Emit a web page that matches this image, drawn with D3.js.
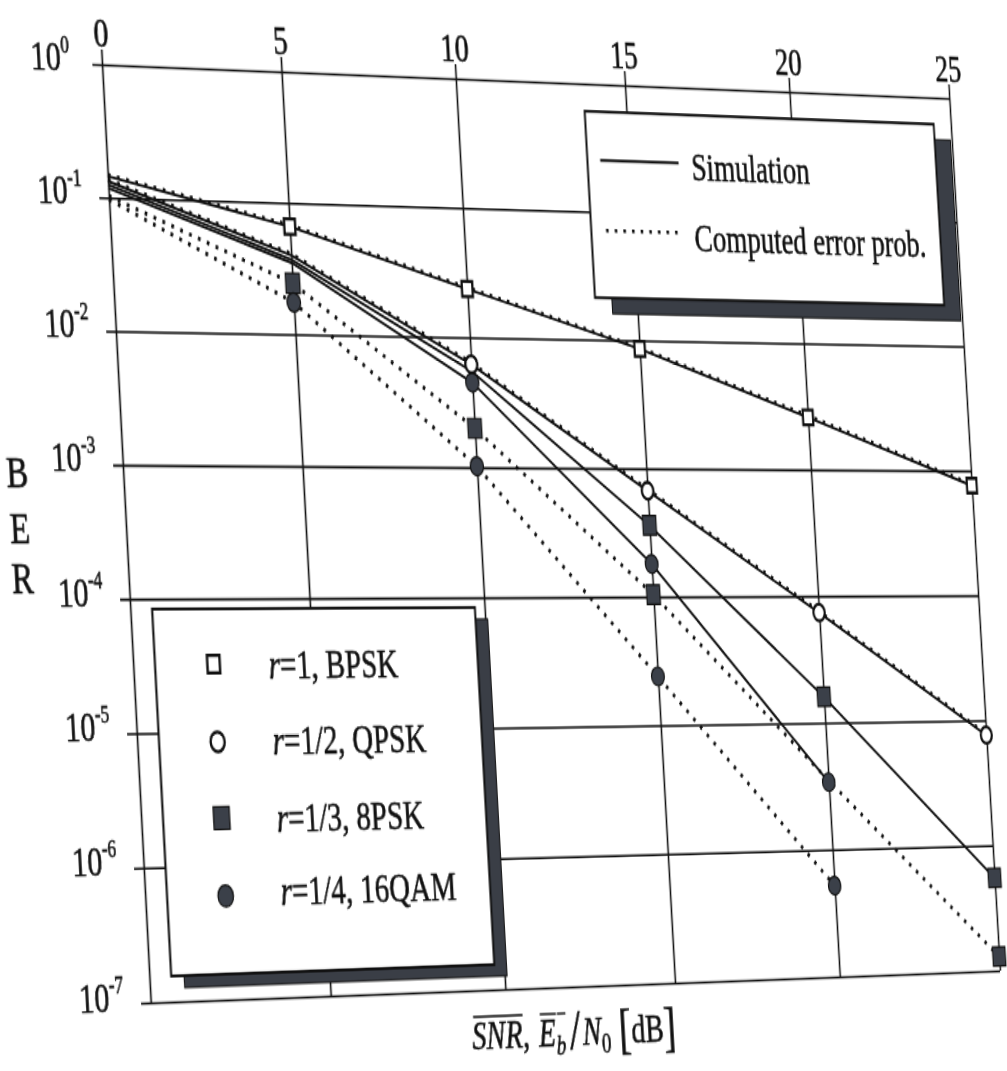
<!DOCTYPE html>
<html>
<head>
<meta charset="utf-8">
<script src="https://cdn.jsdelivr.net/npm/d3@7"></script>
<style>
  html, body { margin: 0; padding: 0; background: #fff; overflow: hidden; }
  #sheet { position: absolute; left: 0; top: 0; transform-origin: 0 0; }
  text { font-family: "Liberation Serif", "Times New Roman", serif; fill: #111;
         stroke: #111; stroke-width: 0.45px; }
</style>
</head>
<body>
<div id="sheet"></div>
<script>
// ---- data -------------------------------------------------------------
const snrDb   = [0, 5, 10, 15, 20, 25];
const xTicks  = [0, 5, 10, 15, 20, 25];
const yTicks  = [1, 1e-1, 1e-2, 1e-3, 1e-4, 1e-5, 1e-6, 1e-7];
const yTickExponents = ["0", "-1", "-2", "-3", "-4", "-5", "-6", "-7"];

// simulated BER (solid lines)
const simBPSK  = [0.145, 0.066, 0.0237, 0.0086, 0.0026, 7.6e-4];
const simQPSK  = [0.133, 0.040, 0.0062, 6.7e-4, 7.4e-5, 7.6e-6];
const sim8PSK  = [0.125, 0.037, 0.0055, 3.6e-4, 1.6e-5, 5.5e-7];
const sim16QAM = [0.118, 0.035, 0.0045, 1.8e-4, 3.4e-6, null];

// computed error probability (dotted lines)
const compBPSK  = [0.149, 0.068, 0.0243, 0.0088, 0.00268, 7.8e-4];
const compQPSK  = [0.137, 0.041, 0.0064, 6.9e-4, 7.6e-5, 7.8e-6];
const comp8PSK  = [0.103, 0.0245, 0.0020, 1.04e-4, 3.5e-6, 1.3e-7];
const comp16QAM = [0.097, 0.0175, 0.00102, 2.4e-5, 5.2e-7, null];

const schemeLabels = ["=1, BPSK", "=1/2, QPSK", "=1/3, 8PSK", "=1/4, 16QAM"];
const schemeShapes = ["squareOpen", "circleOpen", "squareFilled", "circleFilled"];

// which points carry a marker
const simMarkerIdx  = [[1, 2, 3, 4, 5], [2, 3, 4, 5], [3, 4, 5], [2, 3, 4]];
const compMarkerIdx = [[], [], [1, 2, 3, 5], [1, 2, 3, 4]];

const simSeries  = [simBPSK, simQPSK, sim8PSK, sim16QAM];
const compSeries = [compBPSK, compQPSK, comp8PSK, comp16QAM];

// ---- layout -----------------------------------------------------------
const W = 850, H = 625, M = { l: 130, t: 60 };
const INK = "#111";
const MARK_FILL = "#3b4049";

const svg = d3.select("#sheet").append("svg")
  .attr("width", 1040).attr("height", 780);
const g = svg.append("g").attr("transform", `translate(${M.l},${M.t})`);

const x = d3.scaleLinear().domain([0, 25]).range([0, W]);
const y = d3.scaleLog().domain([1e-7, 1]).range([H, 0]);

// vertical grid + top tick labels
const xAxis = d3.axisTop(x).tickValues(xTicks).tickSize(H + 10).tickPadding(2)
  .tickFormat(d3.format("d"));
const xa = g.append("g").attr("transform", `translate(0,${H})`).call(xAxis);
xa.attr("font-family", null).attr("font-size", null);
xa.select(".domain").remove();
xa.selectAll(".tick line").attr("stroke", INK).attr("stroke-width", 1.6);
xa.selectAll(".tick text").attr("fill", INK).attr("font-size", 28);

// horizontal grid + left labels 10^k
const yAxis = d3.axisLeft(y).tickValues(yTicks).tickSize(W + 9).tickFormat(() => "");
const ya = g.append("g").attr("transform", `translate(${W},0)`).call(yAxis);
ya.attr("font-family", null).attr("font-size", null);
ya.select(".domain").remove();
ya.selectAll(".tick line").attr("stroke", INK).attr("stroke-width", 1.6);
ya.selectAll(".tick text").each(function (d, i) {
  const t = d3.select(this)
    .attr("x", -(W + 66)).attr("dy", 4).attr("text-anchor", "start")
    .attr("fill", INK).attr("font-size", 28).text(null);
  t.append("tspan").text("10");
  t.append("tspan").attr("font-size", 16).attr("dy", -12).text(yTickExponents[i]);
});

// ---- curves -----------------------------------------------------------
const toPts = vals => vals.map((v, i) => ({ x: snrDb[i], v }));
const line = d3.line().defined(d => d.v != null).x(d => x(d.x)).y(d => y(d.v));

const curves = g.append("g").attr("fill", "none");
compSeries.forEach(vals => {
  curves.append("path").attr("d", line(toPts(vals)))
    .attr("stroke", INK).attr("stroke-width", 2.8)
    .attr("stroke-dasharray", "2.6 6");
});
simSeries.forEach(vals => {
  curves.append("path").attr("d", line(toPts(vals)))
    .attr("stroke", INK).attr("stroke-width", 1.9);
});

function marker(sel, shape, cx, cy, scale = 1) {
  const open = shape.endsWith("Open");
  const isSq = shape.startsWith("square");
  const s = (isSq ? (open ? 10.5 : 13.5) : (open ? 11.8 : 13)) * scale;
  const sym = d3.symbol()
    .type(isSq ? d3.symbolSquare : d3.symbolCircle)
    .size(isSq ? s * s : Math.PI * (s / 2) * (s / 2));
  sel.append("path").attr("d", sym())
    .attr("transform", `translate(${cx},${cy})`)
    .attr("fill", open ? "#fff" : MARK_FILL)
    .attr("stroke", INK).attr("stroke-width", open ? 2.3 : 1.2);
}

const marks = g.append("g");
compSeries.forEach((vals, k) => {
  compMarkerIdx[k].forEach(i => marker(marks, schemeShapes[k], x(snrDb[i]), y(vals[i])));
});
simSeries.forEach((vals, k) => {
  simMarkerIdx[k].forEach(i => marker(marks, schemeShapes[k], x(snrDb[i]), y(vals[i])));
});

// ---- legends ----------------------------------------------------------
function boxWithShadow(parent, w, h, dx, dy) {
  parent.append("rect").attr("x", dx).attr("y", dy).attr("width", w).attr("height", h)
    .attr("fill", "#3a3e46").attr("stroke", INK).attr("stroke-width", 1);
  parent.append("rect").attr("width", w).attr("height", h)
    .attr("fill", "#fff").attr("stroke", INK).attr("stroke-width", 2);
}

// line-style legend
const leg1 = g.append("g")
  .attr("transform", `translate(${x(13.75)},${y(Math.pow(10, -0.215))})`);
boxWithShadow(leg1, 364, 130, 17, 11);
leg1.append("line").attr("x1", 13).attr("x2", 93).attr("y1", 34).attr("y2", 34)
  .attr("stroke", INK).attr("stroke-width", 1.9);
leg1.append("text").attr("x", 106).attr("y", 46).attr("font-size", 28).text("Simulation");
leg1.append("line").attr("x1", 15).attr("x2", 88).attr("y1", 83).attr("y2", 83)
  .attr("stroke", INK).attr("stroke-width", 2.6).attr("stroke-dasharray", "2.6 6.2");
leg1.append("text").attr("x", 105).attr("y", 96).attr("font-size", 28).text("Computed error prob.");

// modulation legend
const leg2 = g.append("g")
  .attr("transform", `translate(${x(0.6)},${y(Math.pow(10, -4.076))})`);
boxWithShadow(leg2, 310, 244, 12, 8);
const rowMark = [37, 89, 140, 192];
const rowBase = [47, 98, 150, 199];
schemeLabels.forEach((lab, k) => {
  marker(leg2, schemeShapes[k], 55, rowMark[k], 1.12);
  const t = leg2.append("text").attr("x", 107).attr("y", rowBase[k]).attr("font-size", 28);
  t.append("tspan").attr("font-style", "italic").text("r");
  t.append("tspan").text(lab);
});

// ---- axis titles ------------------------------------------------------
["B", "E", "R"].forEach((ch, i) => {
  g.append("text").attr("x", -98).attr("y", [283, 320, 353][i])
    .attr("text-anchor", "middle").attr("font-size", 30).text(ch);
});

const titleParts = [
  { t: "SNR", it: true, over: true },
  { t: ",", gapAfter: 9 },
  { t: "E", it: true, over: true },
  { t: "b", it: true, sub: true, over: true },
  { t: "/", size: 40, gapBefore: 4, gapAfter: 2 },
  { t: "N", it: true },
  { t: "0", sub: true, gapAfter: 8 },
  { t: "[", size: 38 },
  { t: "dB" },
  { t: "]", size: 38 }
];
const title = g.append("g");
let cursor = 0;
const mainSize = 28, subSize = 19;
const pieces = [];
titleParts.forEach(p => {
  cursor += p.gapBefore || 0;
  const size = p.size || (p.sub ? subSize : mainSize);
  const el = title.append("text").attr("x", cursor).attr("y", p.sub ? 6 : (p.size ? 3 : 0))
    .attr("font-size", size).attr("font-style", p.it ? "italic" : null).text(p.t);
  const w = el.node().getComputedTextLength();
  pieces.push({ p, x0: cursor, x1: cursor + w });
  cursor += w + (p.gapAfter || 0);
});
pieces.filter(d => d.p.over).forEach(d => {
  title.append("line").attr("x1", d.x0 + 2).attr("x2", d.x1 + 1)
    .attr("y1", -22).attr("y2", -22).attr("stroke", INK).attr("stroke-width", 1.4);
});
title.attr("transform", `translate(${x(11.96) - cursor / 2},${H + 40})`);

// ---- place the flat drawing onto the tilted sheet ---------------------
function homography(src, dst) {
  const A = [], b = [];
  for (let i = 0; i < 4; i++) {
    const [sx, sy] = src[i], [dx, dy] = dst[i];
    A.push([sx, sy, 1, 0, 0, 0, -sx * dx, -sy * dx]); b.push(dx);
    A.push([0, 0, 0, sx, sy, 1, -sx * dy, -sy * dy]); b.push(dy);
  }
  const n = 8;
  for (let c = 0; c < n; c++) {
    let p = c;
    for (let r = c + 1; r < n; r++) if (Math.abs(A[r][c]) > Math.abs(A[p][c])) p = r;
    [A[c], A[p]] = [A[p], A[c]]; [b[c], b[p]] = [b[p], b[c]];
    for (let r = 0; r < n; r++) {
      if (r === c) continue;
      const f = A[r][c] / A[c][c];
      for (let k = c; k < n; k++) A[r][k] -= f * A[c][k];
      b[r] -= f * b[c];
    }
  }
  return b.map((v, i) => v / A[i][i]);
}
const frameFlat = [[M.l, M.t], [M.l + W, M.t], [M.l, M.t + H], [M.l + W, M.t + H]];
const frameSheet = [[102, 64.5], [949.3, 98.3], [150.7, 1002.7], [1000, 970.7]];
const h = homography(frameFlat, frameSheet);
document.getElementById("sheet").style.transform =
  `matrix3d(${h[0]},${h[3]},0,${h[6]},${h[1]},${h[4]},0,${h[7]},0,0,1,0,${h[2]},${h[5]},0,1)`;
</script>
</body>
</html>
